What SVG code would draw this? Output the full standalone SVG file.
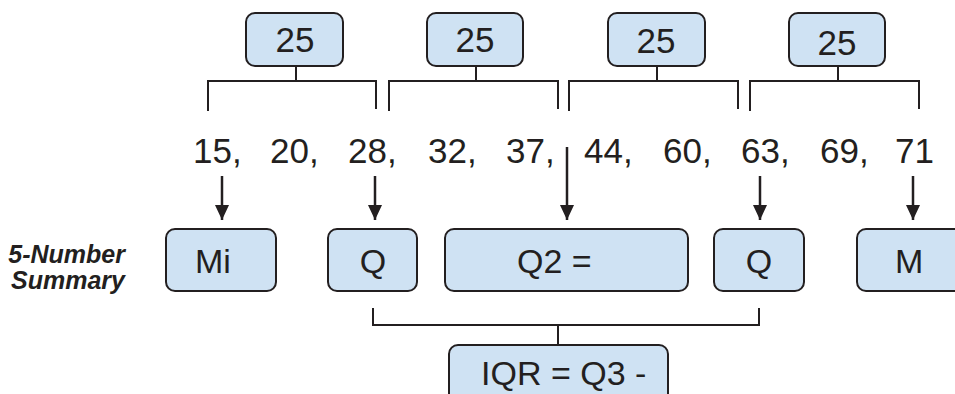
<svg xmlns="http://www.w3.org/2000/svg" width="955" height="394" viewBox="0 0 955 394">
  <defs>
    <!-- solid triangular arrowhead, drawn along +x so orient="auto" points it down the line -->
    <marker id="head" viewBox="0 0 15 14" refX="15" refY="7" markerWidth="15" markerHeight="14" markerUnits="userSpaceOnUse" orient="auto">
      <path d="M0,0 L15,7 L0,14 Z" fill="#231f20"/>
    </marker>
    <style>
      .box { fill: #cfe2f3; stroke: #231f20; stroke-width: 2; }
      .lbl { font-family: "Liberation Sans", Arial, sans-serif; fill: #231f20; }
      .big { font-size: 35px; }
      .mid { font-size: 34px; }
      .num { font-size: 35px; }
      .side { font-family: "Liberation Sans", Arial, sans-serif; font-size: 25px; font-weight: bold; font-style: italic; fill: #231f20; text-anchor: end; }
      .br { fill: none; stroke: #231f20; stroke-width: 2; }
      .arr { stroke: #231f20; stroke-width: 2.5; }
    </style>
  </defs>
  <rect width="955" height="394" fill="#ffffff"/>

  <!-- quarter-count boxes along the top -->
  <g id="quarter1">
    <rect class="box" x="246" y="13" width="97" height="53" rx="9"/>
    <text class="lbl big" x="295" y="52" text-anchor="middle">25</text>
  </g>
  <g id="quarter2">
    <rect class="box" x="427" y="13" width="96" height="53" rx="9"/>
    <text class="lbl big" x="475" y="52" text-anchor="middle">25</text>
  </g>
  <g id="quarter3">
    <rect class="box" x="608" y="13" width="97" height="53" rx="9"/>
    <text class="lbl big" x="656" y="53" text-anchor="middle">25</text>
  </g>
  <g id="quarter4">
    <rect class="box" x="789" y="13" width="96" height="53" rx="9"/>
    <text class="lbl big" x="837" y="55" text-anchor="middle">25</text>
  </g>

  <!-- sorted data values -->
  <g id="data">
    <text class="lbl num" x="193" y="163">15,</text>
    <text class="lbl num" x="270" y="163">20,</text>
    <text class="lbl num" x="348" y="163">28,</text>
    <text class="lbl num" x="428" y="163">32,</text>
    <text class="lbl num" x="506" y="163">37,</text>
    <text class="lbl num" x="584" y="163">44,</text>
    <text class="lbl num" x="663" y="163">60,</text>
    <text class="lbl num" x="741" y="163">63,</text>
    <text class="lbl num" x="820" y="163">69,</text>
    <text class="lbl num" x="895" y="163">71</text>
  </g>

  <!-- side caption -->
  <g id="caption">
    <text class="side" x="125" y="263">5-Number</text>
    <text class="side" x="125" y="289">Summary</text>
  </g>

  <!-- five-number summary boxes -->
  <g id="min">
    <rect class="box" x="166" y="229" width="110" height="62" rx="9"/>
    <text class="lbl mid" x="195" y="273">Mi</text>
  </g>
  <g id="q1">
    <rect class="box" x="328" y="229" width="89" height="62" rx="9"/>
    <text class="lbl mid" x="373" y="273" text-anchor="middle">Q</text>
  </g>
  <g id="q2">
    <rect class="box" x="445" y="229" width="243" height="62" rx="9"/>
    <text class="lbl mid" x="517" y="273">Q2 =</text>
  </g>
  <g id="q3">
    <rect class="box" x="714" y="229" width="90" height="62" rx="9"/>
    <text class="lbl mid" x="759" y="273" text-anchor="middle">Q</text>
  </g>
  <g id="max">
    <rect class="box" x="857" y="229" width="120" height="62" rx="9"/>
    <text class="lbl mid" x="895" y="273">M</text>
  </g>

  <!-- interquartile range box -->
  <g id="iqr">
    <rect class="box" x="449" y="345" width="219" height="64" rx="9"/>
    <text class="lbl" font-size="34" x="481" y="385">IQR = Q3 -</text>
  </g>

  <!-- brackets and arrows -->
  <g id="connectors">
    <path class="br" d="M296,66 V81 M208,111 V81 H376 V109"/>
    <path class="br" d="M476,66 V81 M389,111 V81 H558 V109"/>
    <path class="br" d="M657,66 V81 M569,111 V81 H738 V109"/>
    <path class="br" d="M838,66 V81 M750,111 V81 H919 V109"/>

    <line class="arr" x1="222" y1="176" x2="222" y2="220" marker-end="url(#head)"/>
    <line class="arr" x1="375" y1="176" x2="375" y2="220" marker-end="url(#head)"/>
    <line class="arr" x1="567" y1="147" x2="567" y2="220" marker-end="url(#head)"/>
    <line class="arr" x1="760" y1="176" x2="760" y2="220" marker-end="url(#head)"/>
    <line class="arr" x1="913" y1="176" x2="913" y2="220" marker-end="url(#head)"/>

    <path class="br" d="M373,308 V325 H759 V308 M558,325 V345"/>
  </g>
</svg>
